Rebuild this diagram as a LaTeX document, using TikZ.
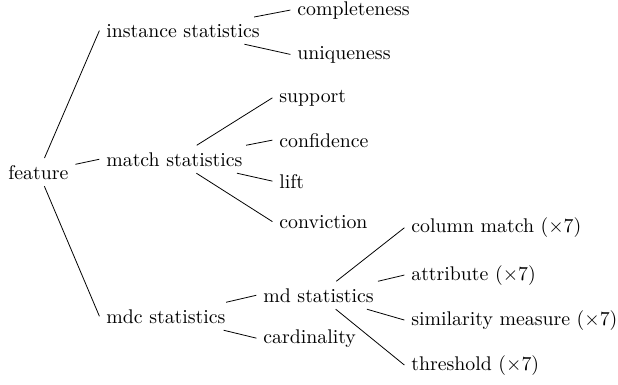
\documentclass[tikz,border=0pt]{standalone}
\begin{document}
\begin{tikzpicture}[x=0.505pt,y=-0.505pt,
  lbl/.style={anchor=base west, inner sep=3.33pt},
  link/.style={draw, line width=0.4pt}]
\useasboundingbox (0,0) rectangle (618,384);
\node[lbl] (feature) at (1.4,179) {feature};
\node[lbl] (inst) at (99.4,37) {instance statistics};
\node[lbl] (match) at (99.4,166) {match statistics};
\node[lbl] (mdc) at (99.4,323) {mdc statistics};
\node[lbl] (compl) at (290.4,15) {completeness};
\node[lbl] (uniq) at (290.4,59) {uniqueness};
\node[lbl] (supp) at (272.4,102) {support};
\node[lbl] (conf) at (272.4,147) {confidence};
\node[lbl] (lift) at (272.4,188) {lift};
\node[lbl] (conv) at (272.4,228) {conviction};
\node[lbl] (md) at (256.4,302) {md statistics};
\node[lbl] (card) at (256.4,343) {cardinality};
\node[lbl] (colm) at (404.4,232.7) {column match ($\times$7)};
\node[lbl] (attr) at (404.4,280) {attribute ($\times$7)};
\node[lbl] (sim) at (404.4,325) {similarity measure ($\times$7)};
\node[lbl] (thr) at (404.4,370) {threshold ($\times$7)};
\draw[link] (feature) -- (inst.west);
\draw[link] (feature) -- (match.west);
\draw[link] (feature) -- (mdc.west);
\draw[link] (inst) -- (compl.west);
\draw[link] (inst) -- (uniq.west);
\draw[link] (match) -- (supp.west);
\draw[link] (match) -- (conf.west);
\draw[link] (match) -- (lift.west);
\draw[link] (match) -- (conv.west);
\draw[link] (mdc) -- (md.west);
\draw[link] (mdc) -- (card.west);
\draw[link] (md) -- (colm.west);
\draw[link] (md) -- (attr.west);
\draw[link] (md) -- (sim.west);
\draw[link] (md) -- (thr.west);
\end{tikzpicture}
\end{document}
